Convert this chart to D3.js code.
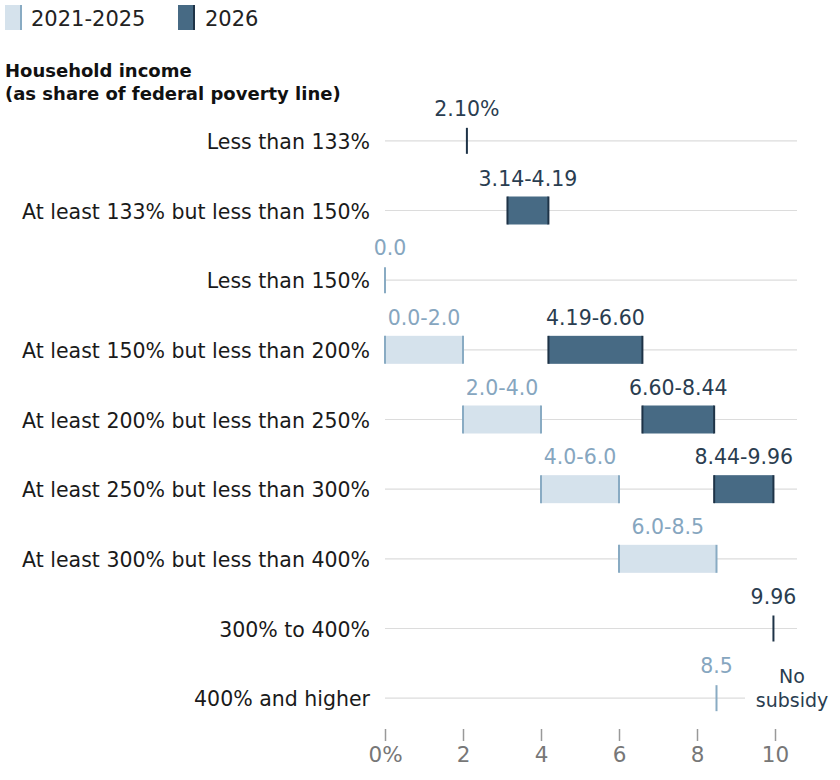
<!DOCTYPE html>
<html><head><meta charset="utf-8">
<script src="https://cdn.jsdelivr.net/npm/d3@7"></script>
<style>body{margin:0;background:#fff}svg{display:block;font-family:"DejaVu Sans","Noto Sans",sans-serif}</style>
</head><body><svg id="c" width="840" height="780"></svg>
<script>
const categories = ["Less than 133%","At least 133% but less than 150%","Less than 150%","At least 150% but less than 200%","At least 200% but less than 250%","At least 250% but less than 300%","At least 300% but less than 400%","300% to 400%","400% and higher"];
const seriesNames = ["2021-2025","2026"];
const lowOld  = [null,null,0.0,0.0,2.0,4.0,6.0,null,8.5];
const highOld = [null,null,0.0,2.0,4.0,6.0,8.5,null,8.5];
const labelOld = [null,null,"0.0","0.0-2.0","2.0-4.0","4.0-6.0","6.0-8.5",null,"8.5"];
const lowNew  = [2.10,3.14,null,4.19,6.60,8.44,null,9.96,null];
const highNew = [2.10,4.19,null,6.60,8.44,9.96,null,9.96,null];
const labelNew = ["2.10%","3.14-4.19",null,"4.19-6.60","6.60-8.44","8.44-9.96",null,"9.96",null];
const xTicks = [0,2,4,6,8,10];
const tickLabels = ["0%","2","4","6","8","10"];

const svg = d3.select("#c");
const x = d3.scaleLinear().domain([0,10]).range([385,775]);
const y = d3.scaleBand().domain(categories).range([106,733]).paddingInner(0).paddingOuter(0);
const cy = c => y(c) + y.bandwidth()/2;

const colors = {oldFill:"#d5e2ec", oldEdge:"#89abc3", oldText:"#86a6bf", newFill:"#476a84", newEdge:"#1e3347", newText:"#2a3d50"};

// legend
const leg = svg.append("g");
[[5,colors.oldFill,colors.oldEdge,seriesNames[0],31],[178,colors.newFill,colors.newEdge,seriesNames[1],205]].forEach(([lx,f,e,t,tx])=>{
  leg.append("rect").attr("x",lx).attr("y",5).attr("width",16).attr("height",25).attr("fill",f);
  leg.append("line").attr("x1",lx+16).attr("x2",lx+16).attr("y1",5).attr("y2",30).attr("stroke",e).attr("stroke-width",2);
  leg.append("text").attr("x",tx).attr("y",26).attr("font-size",21).attr("fill","#222").text(t);
});

// title
svg.append("text").attr("x",5).attr("y",77).attr("font-size",18).attr("font-weight","bold").attr("fill","#111").text("Household income");
svg.append("text").attr("x",5).attr("y",100).attr("font-size",18).attr("font-weight","bold").attr("fill","#111").text("(as share of federal poverty line)");

// gridlines
svg.append("g").selectAll("line").data(categories).join("line")
  .attr("x1",x(0)).attr("x2",(d,i)=> i===categories.length-1 ? 745 : 797)
  .attr("y1",d=>cy(d)).attr("y2",d=>cy(d)).attr("stroke","#dcdcdc").attr("stroke-width",1.2);

// category labels
svg.append("g").selectAll("text").data(categories).join("text")
  .attr("x",370).attr("y",d=>cy(d)+8).attr("text-anchor","end").attr("font-size",20.5).attr("fill","#1a1a1a").text(d=>d);

function drawSeries(lows,highs,labels,fill,edge,tcol){
  const g = svg.append("g");
  categories.forEach((c,i)=>{
    if(lows[i]===null) return;
    const x0=x(lows[i]), x1=x(highs[i]), yc=cy(c);
    if(x1-x0>0.5){
      g.append("rect").attr("x",x0).attr("y",yc-14).attr("width",x1-x0).attr("height",28).attr("fill",fill);
      [x0,x1].forEach(xx=>g.append("line").attr("x1",xx).attr("x2",xx).attr("y1",yc-14).attr("y2",yc+14).attr("stroke",edge).attr("stroke-width",2));
    } else {
      g.append("line").attr("x1",x0).attr("x2",x0).attr("y1",yc-13).attr("y2",yc+13).attr("stroke",edge).attr("stroke-width",2);
    }
    g.append("text").attr("x",(x0+x1)/2 < 400 && x1-x0<1 ? x0+5 : (x0+x1)/2).attr("y",yc-25).attr("text-anchor","middle")
      .attr("font-size",20.5).attr("fill",tcol).text(labels[i]);
  });
}
drawSeries(lowOld,highOld,labelOld,colors.oldFill,colors.oldEdge,colors.oldText);
drawSeries(lowNew,highNew,labelNew,colors.newFill,colors.newEdge,colors.newText);

// No subsidy
svg.append("text").attr("x",792).attr("y",683).attr("text-anchor","middle").attr("font-size",19).attr("fill",colors.newText).text("No");
svg.append("text").attr("x",792).attr("y",707).attr("text-anchor","middle").attr("font-size",19).attr("fill",colors.newText).text("subsidy");

// axis
const ax = d3.axisBottom(x).tickValues(xTicks).tickFormat((d,i)=>tickLabels[i]).tickSize(12).tickPadding(6);
const axg = svg.append("g").attr("transform","translate(0,729)").call(ax);
axg.select(".domain").remove();
axg.selectAll(".tick line").attr("stroke","#999").attr("stroke-width",1.5);
axg.selectAll(".tick text").attr("font-size",21.5).attr("fill","#777").attr("font-family","'DejaVu Sans',sans-serif");
</script></body></html>
